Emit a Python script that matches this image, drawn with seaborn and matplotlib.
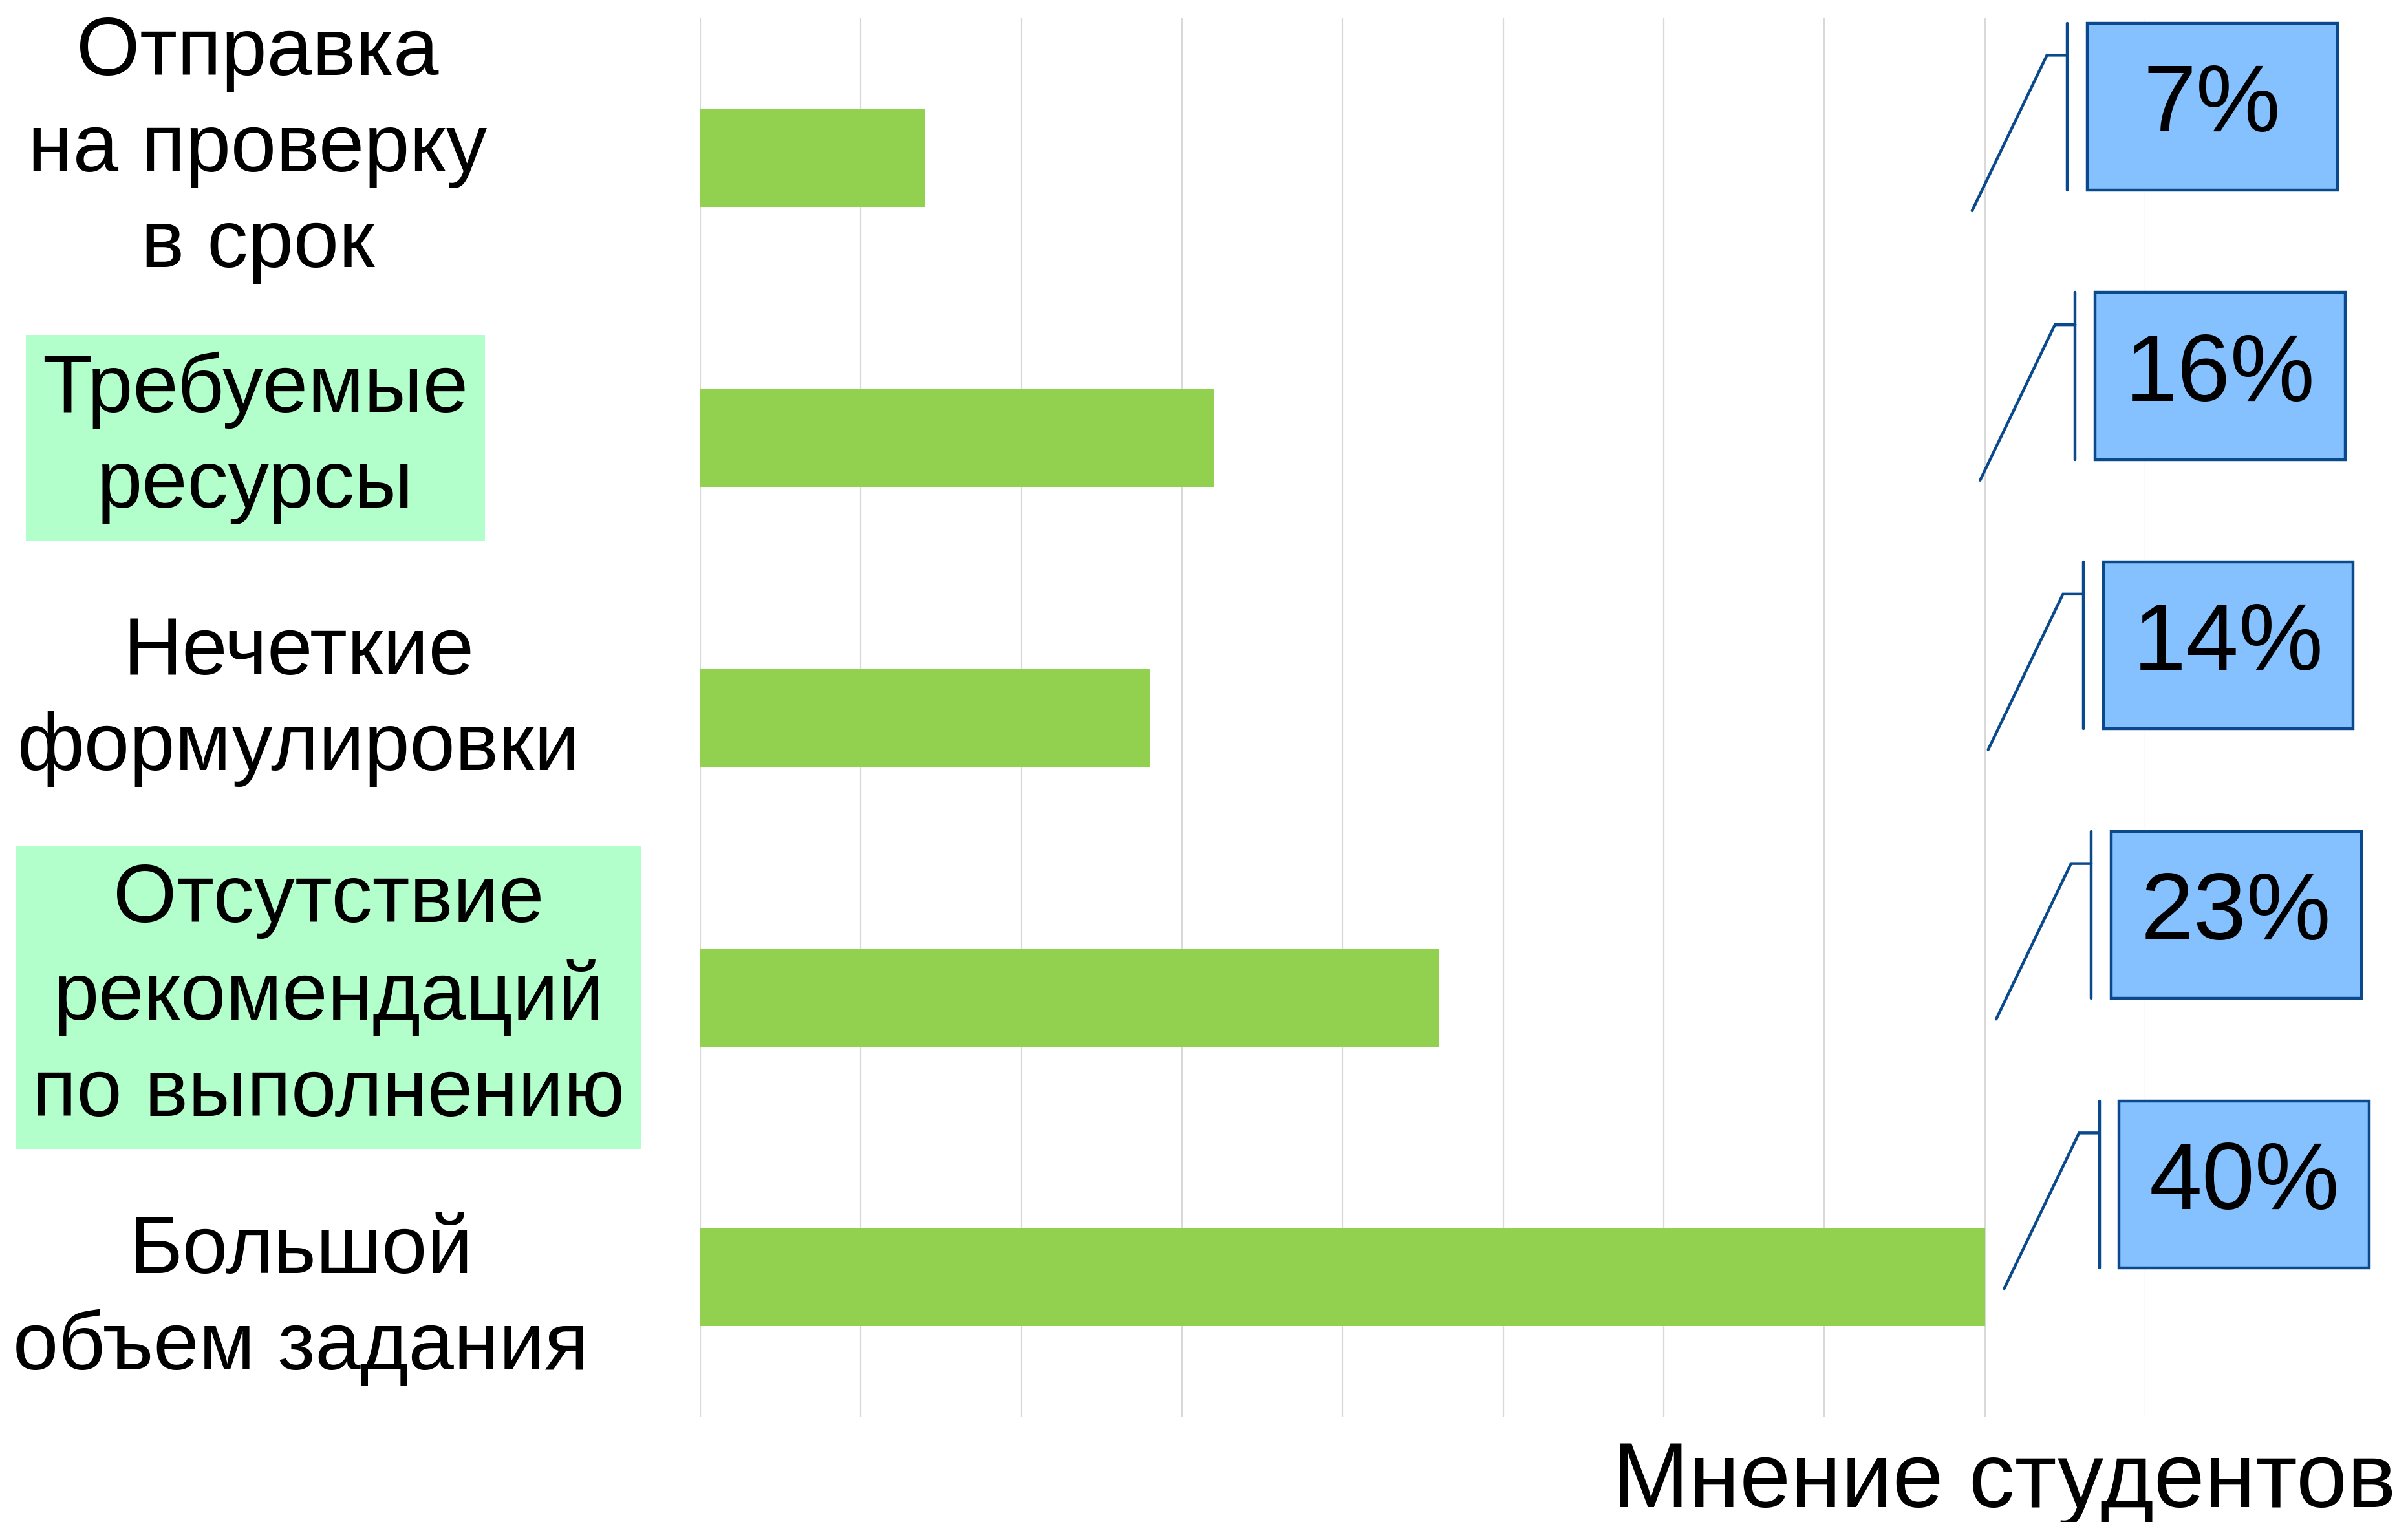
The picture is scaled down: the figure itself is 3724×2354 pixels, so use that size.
import numpy as np
import pandas as pd
import matplotlib
matplotlib.use('Agg')
import matplotlib.pyplot as plt
import matplotlib.transforms as mtransforms
from matplotlib.patches import Rectangle
import seaborn as sns

# 資料
categories = ['Отправка\nна проверку\nв срок',
              'Требуемые\nресурсы',
              'Нечеткие\nформулировки',
              'Отсутствие\nрекомендаций\nпо выполнению',
              'Большой\nобъем задания']
percent = [7, 16, 14, 23, 40]
highlighted = [False, True, False, True, False]
x_label = 'Мнение студентов'

df = pd.DataFrame({'category': categories, 'percent': percent})

sns.set_theme(style='white')
plt.rcParams['font.family'] = ['Liberation Sans', 'DejaVu Sans']

fig = plt.figure(figsize=(37.24, 23.54), dpi=100)
ax = fig.add_axes([0.2908, 0.0688, 0.891 - 0.2908, 0.988 - 0.0688])

sns.barplot(data=df, x='percent', y='category', order=categories,
            color='#92D050', saturation=1, width=0.35, linewidth=0, ax=ax)

# 格線與座標軸
ax.set_xlim(0, 45)
ax.set_ylim(len(categories) - 0.5, -0.5)
ax.set_xticks(range(0, 46, 5))
ax.xaxis.grid(True, color='#D9D9D9', linewidth=1.6)
ax.yaxis.grid(False)
ax.set_axisbelow(True)
ax.tick_params(left=False, bottom=False, labelleft=False, labelbottom=False)
ax.set_xlabel('')
ax.set_ylabel('')
for s in ax.spines.values():
    s.set_visible(False)

# 左側類別標籤
trans = mtransforms.blended_transform_factory(fig.transFigure, ax.transData)
label_x = [0.107, 0.106, 0.124, 0.1365, 0.125]
label_dy = [-0.03, 0.0, -0.06, 0.0, 0.08]
for i, (cat, hl) in enumerate(zip(categories, highlighted)):
    bbox = dict(boxstyle='square,pad=0.2', fc='#B3FFCC', ec='none') if hl else None
    ax.text(label_x[i], i + label_dy[i], cat, transform=trans, ha='center', va='center',
            multialignment='center', fontsize=91, linespacing=1.33,
            color='black', bbox=bbox)

# 數值標註框 (callout)
line_c = '#0A4A8C'
box_w, box_h = 7.79, 0.597
for i, p in enumerate(percent):
    left = 43.18 + 0.25 * i
    top = i - 0.483 - 0.037 * i
    ax.add_patch(Rectangle((left, top), box_w, box_h, facecolor='#85C1FF',
                           edgecolor=line_c, linewidth=3.2, clip_on=False, zorder=5))
    ax.text(left + box_w / 2, top + box_h / 2, f'{p}%', ha='center', va='center',
            fontsize=106, color='black', zorder=6, clip_on=False)
    ax.plot([left - 0.62, left - 0.62], [top, top + box_h], color=line_c,
            linewidth=3.2, clip_on=False, zorder=5)
    ax.plot([left - 3.58, left - 1.25, left - 0.62],
            [top + 0.671, top + 0.115, top + 0.115], color=line_c,
            linewidth=3.2, clip_on=False, zorder=5, solid_joinstyle='miter')

fig.text(0.9949, 0.0098, x_label, ha='right', va='baseline', fontsize=102, color='black')

plt.savefig('out.png', dpi=100)
